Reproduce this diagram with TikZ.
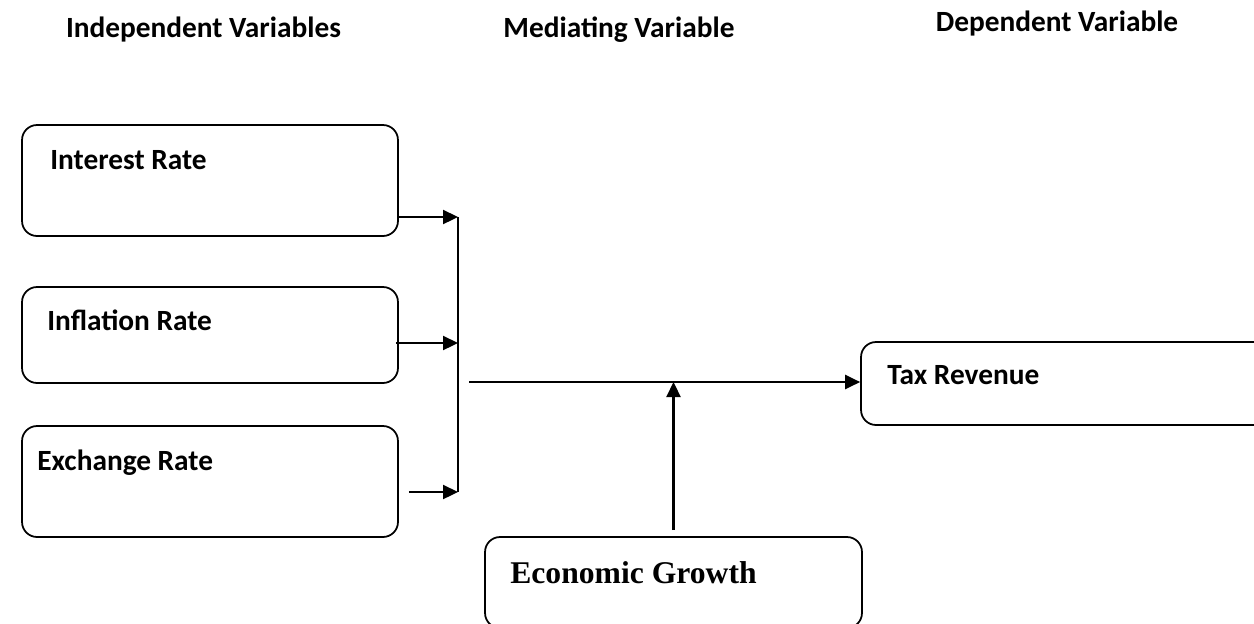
\documentclass[tikz,border=0pt]{standalone}
\usepackage{fontspec}
\setmainfont{Carlito}
\newfontfamily\timesbold{Liberation Serif}
\usetikzlibrary{arrows.meta}
\begin{document}
\begin{tikzpicture}[x=0.02cm,y=-0.02cm,
  box/.style={draw,line width=1pt,rounded corners=0.3cm,minimum width=7.52cm},
  lbl/.style={anchor=base west,inner sep=0pt,font=\fontsize{16.7}{20}\selectfont\bfseries},
  head/.style={anchor=base,inner sep=0pt,font=\fontsize{16.7}{20}\selectfont\bfseries},
  arr/.style={line width=1.3pt,-{Triangle[length=0.3cm,width=0.28cm]}}]
\useasboundingbox (0,0) rectangle (1254,623);
\clip (0,0) rectangle (1254,623);
\node[head] (hind) at (203.5,37) {Independent Variables};
\node[head] (hmed) at (619,37) {Mediating Variable};
\node[head] (hdep) at (1057,31) {Dependent Variable};
\node[box,minimum height=2.22cm] (interest) at (210,180.5) {};
\node[box,minimum height=1.92cm] (inflation) at (210,335) {};
\node[box,minimum height=2.22cm] (exchange) at (210,481.5) {};
\node[box,minimum width=8.78cm,minimum height=1.66cm] (tax) at (1080.5,383.5) {};
\node[box,minimum width=7.54cm,minimum height=1.82cm] (growth) at (673.5,582.5) {};
\node[lbl] (tinterest) at (50,169) {Interest Rate};
\node[lbl] (tinflation) at (47,330) {Inflation Rate};
\node[lbl] (texchange) at (37,470) {Exchange Rate};
\node[lbl] (ttax) at (887,384) {Tax Revenue};
\node[lbl,font=\fontsize{18}{21}\selectfont\timesbold\bfseries] (tgrowth) at (510,583) {Economic Growth};
\coordinate (j1) at (458,217);
\coordinate (j2) at (458,343);
\coordinate (j3) at (458,492);
\coordinate (m0) at (469,382);
\draw[arr] (interest.east |- j1) -- (j1);
\draw[arr] ([xshift=-0.06cm]inflation.east |- j2) -- (j2);
\draw[arr] ([xshift=0.2cm]exchange.east |- j3) -- (j3);
\draw[line width=1.3pt] (j1) -- (j3);
\draw[arr] (m0) -- (tax.west |- m0);
\draw[arr] ([yshift=0.12cm]growth.north) -- (growth.north |- m0);
\end{tikzpicture}
\end{document}
